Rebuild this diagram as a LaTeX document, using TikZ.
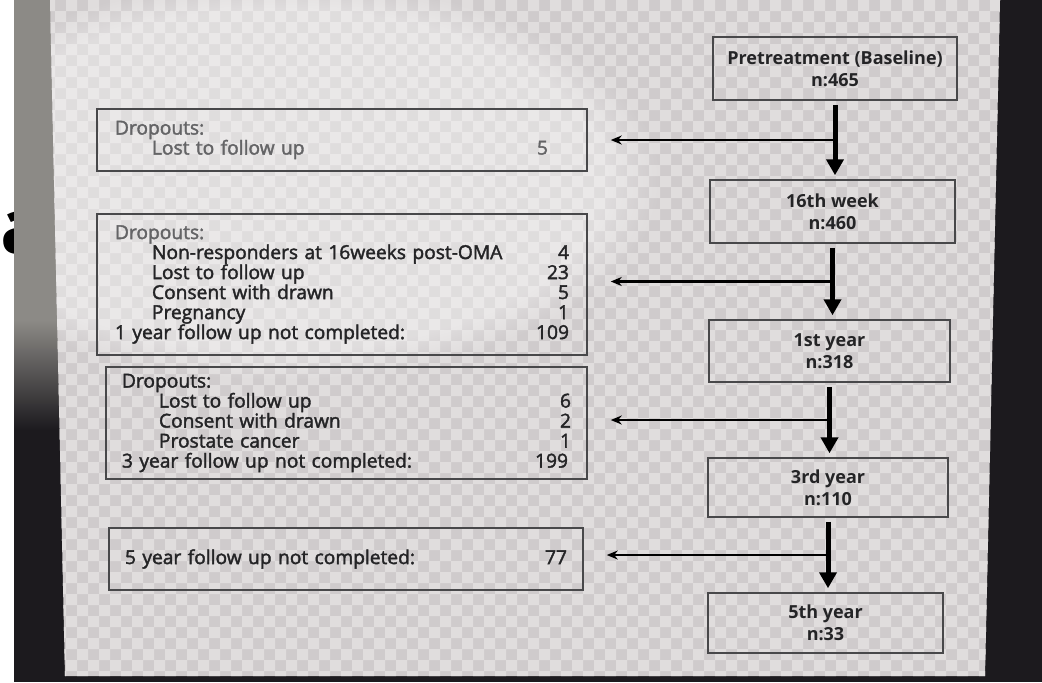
\documentclass[tikz,border=0pt]{standalone}
\usepackage{fontspec}
\setmainfont{Open Sans}
\newfontfamily\plainfont[FakeBold=2]{Open Sans}
\usetikzlibrary{arrows.meta,positioning,calc,fadings}

\definecolor{screenA}{RGB}{224,221,221}
\definecolor{screenB}{RGB}{207,203,204}
\definecolor{bezel}{RGB}{28,26,30}
\definecolor{bargray}{RGB}{140,138,134}
\definecolor{boxline}{RGB}{72,72,74}
\definecolor{ink}{RGB}{36,36,38}
\definecolor{paleink}{RGB}{100,100,102}

\tikzset{
  stage/.style={draw=boxline, line width=0.75pt, inner sep=0pt, align=center,
    font=\bfseries\fontsize{9}{11}\selectfont, text=ink},
  dropbox/.style={draw=boxline, line width=0.75pt, inner sep=0pt, align=left,
    font=\plainfont\fontsize{9.6}{10}\selectfont, text=ink},
  flow/.style={line width=2.5pt, shorten <=2pt, shorten >=2pt,
    -{Triangle[length=8pt,width=8.5pt]}},
  branch/.style={line width=1.2pt, -{Stealth[length=5.5pt,width=4.5pt]}},
}
\newcommand{\ind}{\hspace*{18.5pt}}

\begin{document}
\begin{tikzpicture}[x=0.5pt,y=0.5pt,yscale=-1]
\useasboundingbox (0,0) rectangle (1042,682);
% photo surroundings
\fill[bezel] (0,0) rectangle (1042,682);
\fill[white] (0,0) rectangle (14,682);
\node[anchor=base west, inner sep=0pt, font=\bfseries\fontsize{38}{40}\selectfont] (glyph) at (0,253) {a};
\fill[bargray] (14,0) rectangle (70,320);
\shade[top color=bargray, bottom color=bezel] (14,320) rectangle (70,430);
% screen with checker pattern
\begin{scope}
\clip (50,0) -- (1000,0) -- (985,676) -- (65,676) -- cycle;
\fill[screenB] (0,0) rectangle (1042,682);
\fill[screenA] \foreach \i in {0,22,...,1012} { \foreach \j in {0,22,...,682} {
  (\i,\j) rectangle ++(11,11) (\i+11,\j+11) rectangle ++(11,11) } };
\fill[white, fill opacity=0.35, path fading=circle with fuzzy edge 15 percent] (280,180) ellipse (380 and 200);
\end{scope}

% stages
\node[stage, minimum width=122pt, minimum height=31.5pt] (pre) at (835,68.5) {Pretreatment (Baseline)\\n:465};
\node[stage, minimum width=122.5pt, minimum height=31.5pt] (w16) at (832.5,211.5) {16th week\\n:460};
\node[stage, minimum width=120.5pt, minimum height=31pt] (y1) at (829.5,351) {1st year\\n:318};
\node[stage, minimum width=120pt, minimum height=29.5pt] (y3) at (828,487.5) {3rd year\\n:110};
\node[stage, minimum width=117.5pt, minimum height=30pt] (y5) at (825.5,623) {5th year\\n:33};

% dropouts
\node[dropbox, text=paleink, text width=227pt, minimum width=245pt, minimum height=31pt] (d1) at (342,140) {%
  Dropouts:\\
  \ind Lost to follow up\hfill 5\hspace*{10.5pt}};
\node[dropbox, text width=227pt, minimum width=245pt, minimum height=70.5pt] (d2) at (342,284.5) {%
  \textcolor{paleink}{Dropouts:}\\
  \ind Non-responders at 16weeks post-OMA\hfill 4\\
  \ind Lost to follow up\hfill 23\\
  \ind Consent with drawn\hfill 5\\
  \ind Pregnancy\hfill 1\\
  1 year follow up not completed:\hfill 109};
\node[dropbox, text width=224.5pt, minimum width=240.5pt, minimum height=56pt] (d3) at (346.5,423) {%
  Dropouts:\\
  \ind Lost to follow up\hfill 6\hspace*{1.5pt}\\
  \ind Consent with drawn\hfill 2\hspace*{1.5pt}\\
  \ind Prostate cancer\hfill 1\hspace*{1.5pt}\\
  3 year follow up not completed:\hfill 199\hspace*{1.5pt}};
\node[dropbox, text width=221pt, minimum width=237pt, minimum height=31pt] (d4) at (346,559) {%
  5 year follow up not completed:\hfill 77};

% connectors
\foreach \a/\b/\d in {pre/w16/d1, w16/y1/d2, y1/y3/d3, y3/y5/d4} {
  \coordinate (\a-fork) at ($(\a.south)!0.5!(\a.south |- \b.north)$);
  \draw[branch, shorten >=11.5pt] (\a-fork) -- (\d.east |- \a-fork);
  \draw[flow] (\a.south) -- (\a.south |- \b.north);
}
\end{tikzpicture}
\end{document}
